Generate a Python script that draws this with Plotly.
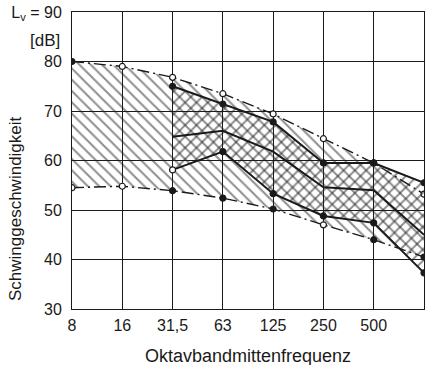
import plotly.graph_objects as go

# Octave band centre frequencies (Hz)
categories = ["8", "16", "31,5", "63", "125", "250", "500", "1000"]
tick_labels = ["8", "16", "31,5", "63", "125", "250", "500", ""]

# Outer band (dash-dot boundaries), all bands
upper_outer = [80.0, 79.0, 76.8, 73.5, 69.4, 64.4, 59.5, 53.2]
lower_outer = [54.5, 54.8, 53.9, 52.4, 50.2, 47.0, 44.0, 40.5]
upper_outer_filled = [True, False, False, False, False, False, True, False]
lower_outer_filled = [False, False, True, True, True, False, True, True]

# Inner band (solid lines), from 31,5 Hz on
inner_x = categories[2:]
inner_top = [75.0, 71.4, 67.8, 59.5, 59.5, 55.5]
inner_mid = [64.8, 66.0, 61.8, 54.6, 54.0, 45.0]
inner_bottom = [58.1, 61.8, 53.3, 48.8, 47.4, 37.3]
inner_bottom_filled = [False, True, True, True, True, True]

y_ticks = [30, 40, 50, 60, 70, 80, 90]
y_tick_text = ["30", "40", "50", "60", "70", "80", "L<sub>v</sub> = 90"]

INK = "#1a1a1a"
HATCH = "#1e1e1e"
FONT = "Liberation Sans, Arial, sans-serif"
DASHDOT = "12px,4px,2px,4px"


def mcolors(flags):
    return [INK if f else "white" for f in flags]


fig = go.Figure()

# outer band: lower boundary, then upper boundary filled with "\" hatch
fig.add_trace(go.Scatter(
    x=categories, y=lower_outer, mode="lines+markers",
    line=dict(color=INK, width=1.4, dash=DASHDOT),
    marker=dict(size=6, color=mcolors(lower_outer_filled), line=dict(color=INK, width=1.2)),
    showlegend=False))
fig.add_trace(go.Scatter(
    x=categories, y=upper_outer, mode="lines+markers",
    line=dict(color=INK, width=1.4, dash=DASHDOT),
    marker=dict(size=6, color=mcolors(upper_outer_filled), line=dict(color=INK, width=1.2)),
    fill="tonexty", fillcolor="rgba(0,0,0,0)",
    fillpattern=dict(shape="\\", size=8, solidity=0.25, fgcolor=HATCH,
                     fillmode="overlay"),
    showlegend=False))

# inner band: bottom then top filled with "/" hatch
fig.add_trace(go.Scatter(
    x=inner_x, y=inner_bottom, mode="lines+markers",
    line=dict(color=INK, width=2),
    marker=dict(size=6, color=mcolors(inner_bottom_filled), line=dict(color=INK, width=1.2)),
    showlegend=False))
fig.add_trace(go.Scatter(
    x=inner_x, y=inner_top, mode="lines+markers",
    line=dict(color=INK, width=2),
    marker=dict(size=6, color=INK, line=dict(color=INK, width=1.2)),
    fill="tonexty", fillcolor="rgba(0,0,0,0)",
    fillpattern=dict(shape="/", size=8, solidity=0.25, fgcolor=HATCH,
                     fillmode="overlay"),
    showlegend=False))
fig.add_trace(go.Scatter(
    x=inner_x, y=inner_mid, mode="lines",
    line=dict(color=INK, width=2),
    showlegend=False))

fig.update_layout(
    width=425, height=365,
    margin=dict(l=72, r=1, t=12, b=56),
    paper_bgcolor="white", plot_bgcolor="white",
    font=dict(family=FONT, size=16, color=INK),
    xaxis=dict(
        type="category", categoryorder="array", categoryarray=categories,
        range=[0, 7], tickvals=categories, ticktext=tick_labels,
        showgrid=True, gridcolor=INK, gridwidth=1,
        showline=True, mirror=True, linecolor=INK, linewidth=1,
        ticks="outside", ticklen=2, tickcolor="rgba(0,0,0,0)",
        tickfont=dict(size=16), zeroline=False),
    yaxis=dict(
        range=[30, 90], tickvals=y_ticks, ticktext=y_tick_text,
        showgrid=True, gridcolor=INK, gridwidth=1,
        showline=True, mirror=True, linecolor=INK, linewidth=1,
        ticks="outside", ticklen=6, tickcolor="rgba(0,0,0,0)",
        tickfont=dict(size=16), zeroline=False),
    annotations=[
        dict(text="[dB]", xref="paper", yref="paper",
             x=(62 - 72) / 352, y=(309 - 40) / 297,
             xanchor="right", yanchor="middle", showarrow=False,
             font=dict(size=17)),
        dict(text="Schwinggeschwindigkeit", xref="paper", yref="paper",
             x=(15 - 72) / 352, y=(309 - 209) / 297, textangle=-90,
             xanchor="center", yanchor="middle", showarrow=False,
             font=dict(size=17)),
        dict(text="Oktavbandmittenfrequenz", xref="paper", yref="paper",
             x=(248 - 72) / 352, y=(309 - 356) / 297,
             xanchor="center", yanchor="middle", showarrow=False,
             font=dict(size=18)),
    ],
)

fig.write_html("out.html",
               config={"displayModeBar": False},
               post_script="document.body.style.margin='0';"
                           "document.body.style.overflow='hidden';")
